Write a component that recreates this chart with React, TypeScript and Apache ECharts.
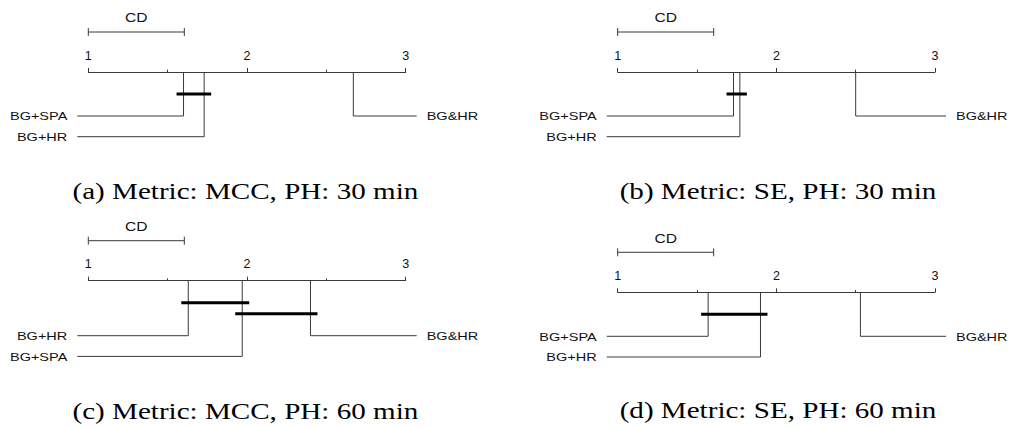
import React, { useEffect, useRef } from "react";
import * as echarts from "echarts";

// ---- Data ----
const METHODS = ["BG+SPA", "BG+HR", "BG&HR"];
const RANKS_A = [1.6, 1.73, 2.67]; // MCC, PH 30
const RANKS_B = [1.73, 1.77, 2.5]; // SE, PH 30
const RANKS_C = [1.97, 1.63, 2.4]; // MCC, PH 60
const RANKS_D = [1.57, 1.9, 2.53]; // SE, PH 60
const CD_VALUE = 0.605;
const CLIQUES_A = [["BG+SPA", "BG+HR"]];
const CLIQUES_B = [["BG+SPA", "BG+HR"]];
const CLIQUES_C = [
  ["BG+HR", "BG+SPA"],
  ["BG+SPA", "BG&HR"],
];
const CLIQUES_D = [["BG+SPA", "BG+HR"]];
const CAPTIONS = [
  "(a) Metric: MCC, PH: 30 min",
  "(b) Metric: SE, PH: 30 min",
  "(c) Metric: MCC, PH: 60 min",
  "(d) Metric: SE, PH: 60 min",
];
const AX_MIN = 1;
const AX_MAX = 3;

const SANS = '"Liberation Sans", Arial, sans-serif';
const SERIF = '"Liberation Serif", "Times New Roman", serif';
const LINE = "#3a3a3a";
const STRETCH = 1.25;
const CAP_STRETCH = 1.265;

const PANELS = [
  { ranks: RANKS_A, cliques: CLIQUES_A, left: 88.3, width: 317.4, top: 72, capX: 245.4, capY: 191.4 },
  { ranks: RANKS_B, cliques: CLIQUES_B, left: 617.7, width: 317.3, top: 72, capX: 778, capY: 191.4 },
  { ranks: RANKS_C, cliques: CLIQUES_C, left: 88.3, width: 317.4, top: 280.7, capX: 245.4, capY: 411.2 },
  { ranks: RANKS_D, cliques: CLIQUES_D, left: 617.7, width: 317.3, top: 292.3, capX: 778, capY: 410.5 },
];

function buildOption() {
  const grid: any[] = [];
  const xAxis: any[] = [];
  const yAxis: any[] = [];
  const series: any[] = [];
  const graphic: any[] = [];

  PANELS.forEach((p, pi) => {
    grid.push({ left: p.left, top: p.top, width: p.width, height: 80 });
    xAxis.push({
      type: "value",
      gridIndex: pi,
      min: AX_MIN,
      max: AX_MAX,
      interval: 1,
      position: "top",
      axisLine: { show: true, onZero: false, lineStyle: { color: LINE, width: 1 } },
      axisTick: { show: true, inside: false, length: 4, lineStyle: { color: LINE, width: 1 } },
      minorTick: { show: true, splitNumber: 2, length: 2.3, lineStyle: { color: LINE, width: 1 } },
      splitLine: { show: false },
      minorSplitLine: { show: false },
      axisLabel: { show: true, margin: 10, color: "#111", fontFamily: SANS, fontSize: 12.5 },
    });
    yAxis.push({ type: "value", gridIndex: pi, min: 0, max: 80, inverse: true, show: false });

    const n = p.cliques.length;
    const cliqueY = (k: number) => 22 + 11 * k;
    const rowY = (i: number) => 22 + 11 * (n - 1) + 22 + 20.7 * i;

    // methods
    const order = METHODS.map((m, i) => ({ name: m, rank: p.ranks[i] })).sort((a, b) => a.rank - b.rank);
    const N = order.length;
    const leftCount = Math.ceil(N / 2);
    const items: { name: string; rank: number; row: number; side: number }[] = [];
    order.forEach((o, i) => {
      if (i < leftCount) items.push({ name: o.name, rank: o.rank, row: rowY(i), side: 0 });
      else items.push({ name: o.name, rank: o.rank, row: rowY(N - 1 - i), side: 1 });
    });

    series.push({
      type: "custom",
      xAxisIndex: pi,
      yAxisIndex: pi,
      clip: false,
      silent: true,
      encode: { x: 0, y: 1 },
      data: items.map((it) => [it.rank, it.row, it.side]),
      renderItem: (params: any, api: any) => {
        const rank = api.value(0);
        const ry = api.value(1);
        const side = api.value(2);
        const name = items[params.dataIndex].name;
        const top = api.coord([rank, 0]);
        const row = api.coord([rank, ry]);
        const endX = side === 0 ? api.coord([AX_MIN, ry])[0] - 11 : api.coord([AX_MAX, ry])[0] + 11;
        return {
          type: "group",
          children: [
            {
              type: "polyline",
              shape: { points: [top, row, [endX, row[1]]] },
              style: { stroke: LINE, lineWidth: 1, fill: null },
            },
            {
              type: "text",
              x: side === 0 ? endX - 10 : endX + 10,
              y: row[1] + 0.5,
              scaleX: STRETCH,
              style: {
                text: name,
                x: 0,
                y: 0,
                textAlign: side === 0 ? "right" : "left",
                textVerticalAlign: "middle",
                font: `11.6px ${SANS}`,
                fill: "#111",
              },
            },
          ],
        };
      },
    });

    // cliques
    const rankOf = (m: string) => p.ranks[METHODS.indexOf(m)];
    series.push({
      type: "custom",
      xAxisIndex: pi,
      yAxisIndex: pi,
      clip: false,
      silent: true,
      encode: { x: [0, 1], y: 2 },
      data: p.cliques.map((c, k) => {
        const rs = c.map(rankOf);
        return [Math.min(...rs), Math.max(...rs), cliqueY(k)];
      }),
      renderItem: (params: any, api: any) => {
        const a = api.coord([api.value(0), api.value(2)]);
        const b = api.coord([api.value(1), api.value(2)]);
        return {
          type: "line",
          shape: { x1: a[0] - 7, y1: a[1], x2: b[0] + 7, y2: b[1] },
          style: { stroke: "#000", lineWidth: 3 },
        };
      },
    });

    // CD bar
    series.push({
      type: "custom",
      xAxisIndex: pi,
      yAxisIndex: pi,
      clip: false,
      silent: true,
      encode: { x: [0, 1], y: 2 },
      data: [[AX_MIN, AX_MIN + CD_VALUE, -40]],
      renderItem: (params: any, api: any) => {
        const a = api.coord([api.value(0), api.value(2)]);
        const b = api.coord([api.value(1), api.value(2)]);
        return {
          type: "group",
          children: [
            { type: "line", shape: { x1: a[0], y1: a[1], x2: b[0], y2: b[1] }, style: { stroke: LINE, lineWidth: 1 } },
            { type: "line", shape: { x1: a[0], y1: a[1] - 4, x2: a[0], y2: a[1] + 4 }, style: { stroke: LINE, lineWidth: 1 } },
            { type: "line", shape: { x1: b[0], y1: b[1] - 4, x2: b[0], y2: b[1] + 4 }, style: { stroke: LINE, lineWidth: 1 } },
            {
              type: "text",
              x: (a[0] + b[0]) / 2,
              y: a[1] - 14,
              scaleX: STRETCH,
              style: {
                text: "CD",
                x: 0,
                y: 0,
                textAlign: "center",
                textVerticalAlign: "middle",
                font: `12.5px ${SANS}`,
                fill: "#111",
              },
            },
          ],
        };
      },
    });

    graphic.push({
      type: "text",
      x: p.capX,
      y: p.capY,
      scaleX: CAP_STRETCH,
      style: {
        text: CAPTIONS[pi],
        x: 0,
        y: 0,
        textAlign: "center",
        textVerticalAlign: "middle",
        font: `23px ${SERIF}`,
        fill: "#000",
      },
    });
  });

  return { animation: false, backgroundColor: "#fff", grid, xAxis, yAxis, series, graphic };
}

export default function App() {
  const ref = useRef<HTMLDivElement>(null);
  useEffect(() => {
    if (!ref.current) return;
    const chart = echarts.init(ref.current, undefined, { renderer: "svg" });
    chart.setOption(buildOption() as any);
    return () => chart.dispose();
  }, []);
  return (
    <div
      ref={ref}
      style={{ position: "fixed", left: 0, top: 0, width: 1011, height: 428, background: "#fff" }}
    />
  );
}
